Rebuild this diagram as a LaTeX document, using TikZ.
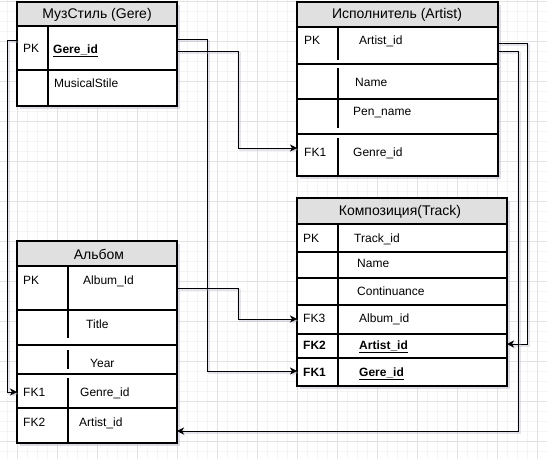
\documentclass[tikz,border=0pt]{standalone}
\usepackage{fontspec}
\setmainfont{Liberation Sans}
\usetikzlibrary{arrows.meta}
\definecolor{headcol}{HTML}{E0E0E0}
\definecolor{gridmaj}{HTML}{E2E2E2}
\definecolor{gridmin}{HTML}{F4F4F4}
\definecolor{shadcol}{HTML}{B4B4CC}
\begin{document}
\begin{tikzpicture}[x=1pt, y=-1pt,
  txt/.style={anchor=base west, inner sep=0pt, font=\fontsize{12}{14}\selectfont},
  head/.style={inner sep=0pt, font=\fontsize{14}{16}\selectfont},
  box/.style={draw=black, line width=1.2pt},
  shade/.style={fill=shadcol, opacity=.45},
  link/.style={draw=black, line width=1pt, -{Stealth[length=7pt,width=7pt,inset=2pt]},
    preaction={draw=shadcol, opacity=.35, line width=2pt, transform canvas={shift={(1.5pt,-1.5pt)}}}}]
\useasboundingbox (0,0) rectangle (547,459);
\fill[white] (0,0) rectangle (547,459);
% grid
\foreach \x in {7,17,...,547} \draw[gridmin, line width=.6pt] (\x,0) -- (\x,459);
\foreach \y in {1,11,...,459} \draw[gridmin, line width=.6pt] (0,\y) -- (547,\y);
\foreach \x in {17,57,...,547} \draw[gridmaj, line width=.8pt] (\x,0) -- (\x,459);
\foreach \y in {1,41,...,459} \draw[gridmaj, line width=.8pt] (0,\y) -- (547,\y);
% МузСтиль (Gere)
\fill[shade] (20,5) rectangle (180,109);
\fill[white] (17,2) rectangle (177,106);
\fill[headcol] (17,2) rectangle (177,26);
\draw[box] (17,2) rectangle (177,106);
\draw[box] (17,26) -- (177,26) (17,70) -- (177,70) (48,26) -- (48,106);
\node[head] (gere-title) at (97,15) {МузСтиль (Gere)};
\node[txt] (gere-pk) at (23,52) {PK};
\node[txt] (gere-id) at (53,53) {\underline{\textbf{Gere\_id}}};
\node[txt] (gere-style) at (54,87) {MusicalStile};
% Исполнитель (Artist)
\fill[shade] (300,5) rectangle (501,179);
\fill[white] (297,2) rectangle (498,176);
\fill[headcol] (297,2) rectangle (498,27);
\draw[box] (297,2) rectangle (498,176);
\draw[box] (297,27) -- (498,27) (297,64) -- (498,64) (297,99) -- (498,99) (297,134) -- (498,134);
\draw[box] (338,27) -- (338,60) (338,68) -- (338,128) (338,138) -- (338,176);
\node[head] (artist-title) at (397,15) {Исполнитель (Artist)};
\node[txt] (artist-pk) at (304,44) {PK};
\node[txt] (artist-id) at (359,44) {Artist\_id};
\node[txt] (artist-name) at (355,86) {Name};
\node[txt] (artist-pen) at (353,115) {Pen\_name};
\node[txt] (artist-fk1) at (304,156) {FK1};
\node[txt] (artist-genre) at (353,156) {Genre\_id};
% Композиция(Track)
\fill[shade] (300,201) rectangle (510,389);
\fill[white] (297,198) rectangle (507,386);
\fill[headcol] (297,198) rectangle (507,224);
\draw[box] (297,198) rectangle (507,386);
\draw[box] (297,224) -- (507,224) (297,252) -- (507,252) (297,278) -- (507,278)
  (297,305) -- (507,305) (297,334) -- (507,334) (297,358) -- (507,358) (338,224) -- (338,386);
\node[head] (track-title) at (400,212) {Композиция(Track)};
\node[txt] (track-pk) at (303,242) {PK};
\node[txt] (track-id) at (354,242) {Track\_id};
\node[txt] (track-name) at (357,267) {Name};
\node[txt] (track-len) at (357,295) {Continuance};
\node[txt] (track-fk3) at (303,322) {FK3};
\node[txt] (track-album) at (359,322) {Album\_id};
\node[txt] (track-fk2) at (303,349) {\textbf{FK2}};
\node[txt] (track-artist) at (359,349) {\underline{\textbf{Artist\_id}}};
\node[txt] (track-fk1) at (303,376) {\textbf{FK1}};
\node[txt] (track-gere) at (359,376) {\underline{\textbf{Gere\_id}}};
% Альбом
\fill[shade] (20,244) rectangle (180,446);
\fill[white] (17,241) rectangle (177,443);
\fill[headcol] (17,241) rectangle (177,266);
\draw[box] (17,241) rectangle (177,443);
\draw[box] (17,266) -- (177,266) (17,310) -- (177,310) (17,345) -- (177,345)
  (17,374) -- (177,374) (17,408) -- (177,408);
\draw[box] (68,266) -- (68,338) (68,350) -- (68,369) (68,378) -- (68,443);
\node[head] (album-title) at (99,254) {Альбом};
\node[txt] (album-pk) at (23,284) {PK};
\node[txt] (album-id) at (83,284) {Album\_Id};
\node[txt] (album-name) at (86,328) {Title};
\node[txt] (album-year) at (90,367) {Year};
\node[txt] (album-fk1) at (23,396) {FK1};
\node[txt] (album-genre) at (80,396) {Genre\_id};
\node[txt] (album-fk2) at (23,426) {FK2};
\node[txt] (album-artist) at (79,426) {Artist\_id};
% connector ends
\coordinate (gere-w) at (17,40);
\coordinate (gere-e1) at (177,39);
\coordinate (gere-e2) at (177,51);
\coordinate (artist-e1) at (498,43);
\coordinate (artist-e2) at (498,51);
\coordinate (artist-in) at (297,148);
\coordinate (album-e) at (177,288);
\coordinate (album-in1) at (17,392);
\coordinate (album-in2) at (177,431);
\coordinate (track-in3) at (297,319);
\coordinate (track-in2) at (507,344);
\coordinate (track-in1) at (297,371);
% links
\draw[link] (gere-w) -- ++(-10,0) |- (album-in1);
\draw[link] (gere-e1) -- ++(30,0) |- (track-in1);
\draw[link] (gere-e2) -- ++(61,0) |- (artist-in);
\draw[link] (album-e) -- ++(61,0) |- (track-in3);
\draw[link] (artist-e1) -- ++(29,0) |- (track-in2);
\draw[link] (artist-e2) -- ++(20,0) |- (album-in2);
\end{tikzpicture}
\end{document}
